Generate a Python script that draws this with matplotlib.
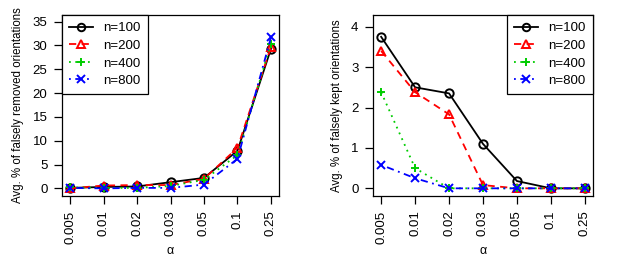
import numpy as np
import matplotlib
matplotlib.use("Agg")
import matplotlib.pyplot as plt

plt.rcParams['font.family'] = ['Liberation Sans', 'DejaVu Sans']

alpha = ["0.005", "0.01", "0.02", "0.03", "0.05", "0.1", "0.25"]
labels = ["n=100", "n=200", "n=400", "n=800"]

# falsely removed (%)
removed_100 = [0.1, 0.3, 0.4, 1.3, 2.2, 7.9, 29.3]
removed_200 = [0.0, 0.6, 0.7, 0.7, 2.0, 8.5, 29.7]
removed_400 = [0.2, 0.1, 0.1, 0.5, 1.8, 7.0, 30.4]
removed_800 = [0.1, 0.0, 0.1, 0.1, 0.8, 6.2, 31.7]

# falsely kept (%)
kept_100 = [3.75, 2.5, 2.35, 1.1, 0.18, 0.0, 0.0]
kept_200 = [3.4, 2.38, 1.83, 0.08, 0.0, 0.0, 0.0]
kept_400 = [2.38, 0.5, 0.0, 0.0, 0.0, 0.0, 0.0]
kept_800 = [0.58, 0.25, 0.0, 0.0, 0.0, 0.0, 0.0]

styles = [
    dict(color="black", marker="o", linestyle="-", mfc="none"),
    dict(color="red", marker="^", linestyle=(0, (4, 3)), mfc="none"),
    dict(color="#00cc00", marker="+", linestyle=(0, (1, 2.5))),
    dict(color="blue", marker="x", linestyle=(0, (1, 2.5, 4, 2.5))),
]

fig = plt.figure(figsize=(6.23, 2.73), dpi=100)
W, H = 623.0, 273.0
ax1 = fig.add_axes([62 / W, 1 - 196 / H, (279 - 62) / W, (196 - 15) / H])
ax2 = fig.add_axes([373 / W, 1 - 196 / H, (593 - 373) / W, (196 - 15) / H])

x = np.arange(len(alpha))

def draw(ax, series, ylabel, yticks, ylim, loc):
    for ys, lab, st in zip(series, labels, styles):
        ax.plot(x, ys, label=lab, lw=1.3, ms=6, mew=1.4, **st)
    ax.set_xlim(-0.24, 6.24)
    ax.set_ylim(*ylim)
    ax.set_xticks(x)
    ax.set_xticklabels(alpha, rotation=90, fontsize=9.5)
    ax.set_yticks(yticks)
    ax.tick_params(axis='y', labelsize=9.5)
    ax.tick_params(length=5.5, width=0.9, pad=5)
    ax.set_ylabel(ylabel, fontsize=8.3, labelpad=6)
    ax.set_xlabel("α", fontsize=9, labelpad=1)
    for s in ax.spines.values():
        s.set_linewidth(0.9)
    leg = ax.legend(loc=loc, fontsize=9.5, fancybox=False, framealpha=1,
                    edgecolor="black", borderaxespad=0, handlelength=1.8,
                    handletextpad=0.8, labelspacing=0.4, borderpad=0.55,
                    markerscale=0.9)
    leg.get_frame().set_linewidth(0.9)

draw(ax1, [removed_100, removed_200, removed_400, removed_800],
     "Avg. % of falsely removed orientations", [0, 5, 10, 15, 20, 25, 30, 35],
     (-1.6, 36.4), "upper left")
draw(ax2, [kept_100, kept_200, kept_400, kept_800],
     "Avg. % of falsely kept orientations", [0, 1, 2, 3, 4],
     (-0.19, 4.29), "upper right")

fig.savefig("out.png", dpi=100)
